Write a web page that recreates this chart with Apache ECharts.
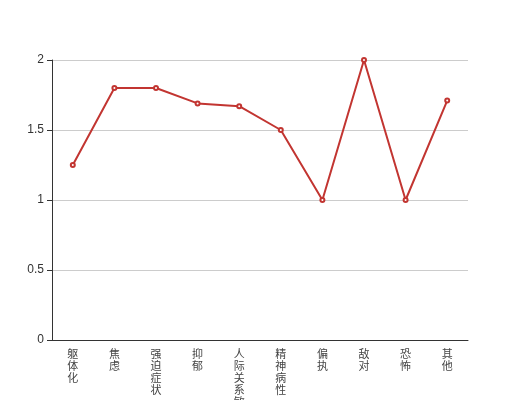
<!DOCTYPE html>
<html><head><meta charset="utf-8">
<script src="https://cdn.jsdelivr.net/npm/echarts@6/dist/echarts.min.js"></script>
<style>html,body{margin:0;padding:0;background:#fff}#c{width:520px;height:400px}</style>
</head><body><div id="c"></div>
<script>
var categories = ['躯体化','焦虑','强迫症状','抑郁','人际关系敏感','精神病性','偏执','敌对','恐怖','其他'];
var values = [1.25, 1.8, 1.8, 1.69, 1.67, 1.5, 1.0, 2.0, 1.0, 1.71];
var yTicks = [0, 0.5, 1, 1.5, 2];
var chart = echarts.init(document.getElementById('c'));
chart.setOption({
  animation: false,
  grid: {left: 52, right: 52, top: 60, bottom: 60, containLabel: false, outerBoundsMode: 'none'},
  xAxis: {
    type: 'category',
    data: categories,
    boundaryGap: true,
    axisLine: {lineStyle: {color: '#333'}},
    axisTick: {lineStyle: {color: '#333'}},
    axisLabel: {
      interval: 0, color: '#444', fontSize: 11, lineHeight: 12,
      fontFamily: 'Noto Sans CJK SC',
      formatter: function (v) { return v.split('').join('\n'); }
    }
  },
  yAxis: {
    type: 'value', min: yTicks[0], max: yTicks[yTicks.length-1], interval: 0.5,
    axisLine: {show: true, lineStyle: {color: '#333'}},
    axisTick: {show: true, lineStyle: {color: '#333'}},
    axisLabel: {color: '#333', fontSize: 12},
    splitLine: {lineStyle: {color: '#ccc'}}
  },
  series: [{
    type: 'line', data: values,
    symbol: 'emptyCircle', symbolSize: 4,
    lineStyle: {color: '#c23531', width: 2},
    itemStyle: {color: '#c23531'}
  }]
});
</script></body></html>
